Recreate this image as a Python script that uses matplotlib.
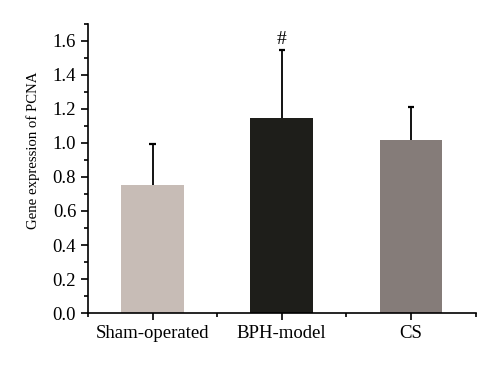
import numpy as np
import matplotlib
matplotlib.use("Agg")
import matplotlib.pyplot as plt
from matplotlib.ticker import MultipleLocator, FormatStrFormatter

# --- data ---
groups = ["Sham-operated", "BPH-model", "CS"]
means = [0.755, 1.145, 1.02]
sd_up = [0.24, 0.40, 0.19]
bar_colors = ["#c7bcb6", "#1e1e1a", "#857c79"]
marks = ["", "#", ""]

plt.rcParams["font.family"] = ["Liberation Serif", "DejaVu Serif"]

fig = plt.figure(figsize=(5, 3.67), dpi=100)
ax = fig.add_axes([0.176, 0.147, 0.775, 0.788])

x = np.arange(len(groups))
tops = np.array(means) + np.array(sd_up)
ax.bar(x, means, width=0.485, color=bar_colors, zorder=2)
# one-sided error bars (upper only)
ax.vlines(x, means, tops, color="black", linewidth=1.3, zorder=3)
ax.hlines(tops, x - 0.025, x + 0.025, color="black", linewidth=1.6, zorder=3)

for xi, t, lab in zip(x, tops, marks):
    if lab:
        ax.text(xi, t + 0.015, lab, ha="center", va="bottom", fontsize=14)

ax.set_xlim(-0.5, 2.5)
ax.set_ylim(0, 1.7)
ax.set_xticks(x)
ax.set_xticklabels(groups, fontsize=13.5)
ax.set_xticks([-0.5, 0.5, 1.5, 2.5], minor=True)
ax.yaxis.set_major_locator(MultipleLocator(0.2))
ax.yaxis.set_minor_locator(MultipleLocator(0.1))
ax.yaxis.set_major_formatter(FormatStrFormatter("%.1f"))
ax.tick_params(axis="y", labelsize=13.5)
ax.tick_params(which="major", direction="out", length=5, width=1.2)
ax.tick_params(which="minor", direction="out", length=3, width=1.2)
ax.set_ylabel("Gene expression of PCNA", fontsize=10.6)
ax.yaxis.set_label_coords(-0.125, 0.564)

for side in ["top", "right"]:
    ax.spines[side].set_visible(False)
for side in ["left", "bottom"]:
    ax.spines[side].set_linewidth(1.2)

fig.savefig("out.png", dpi=100)
